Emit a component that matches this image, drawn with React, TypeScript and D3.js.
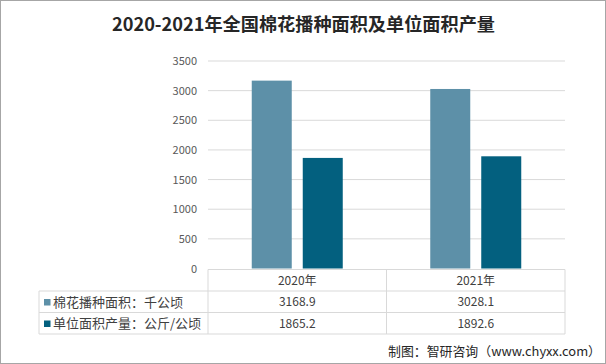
import React from "react";
import * as d3 from "d3";

const categories = ["2020年", "2021年"];
const seriesNames = ["棉花播种面积：千公顷", "单位面积产量：公斤/公顷"];
const areaValues = [3168.9, 3028.1];
const yieldValues = [1865.2, 1892.6];
const tickValues = [0, 500, 1000, 1500, 2000, 2500, 3000, 3500];
const colors = ["#5D90A8", "#03607F"];

export default function App() {
  const W = 606, H = 364;
  const left = 208, right = 565, top = 61, bottom = 268.5;
  const x = d3.scaleBand().domain(categories).range([left, right]);
  const y = d3.scaleLinear().domain([0, 3500]).range([bottom, top]);
  const barW = 40, gap = 11;
  const series = [areaValues, yieldValues];
  const rowTop = [269.5, 291, 312.5, 334];
  const font = "'Microsoft YaHei','Noto Sans CJK SC','Noto Sans',sans-serif";
  return (
    <svg width={W} height={H} style={{ position: "absolute", left: 0, top: 0 }}>
      <rect x={0.5} y={0.5} width={W - 1} height={H - 1} fill="#fff" stroke="#a6a6a6" />
      <text x={303.5} y={30.5} textAnchor="middle" fontSize={18} fontWeight="bold" fill="#262626"
        textLength={383} lengthAdjust="spacingAndGlyphs"
        fontFamily="'Noto Sans CJK SC',serif">2020-2021年全国棉花播种面积及单位面积产量</text>
      {tickValues.map((t) => (
        <g key={t}>
          {t > 0 && <line x1={left} x2={right} y1={y(t)} y2={y(t)} stroke="#d9d9d9" />}
          <text x={197} y={y(t) + 4} textAnchor="end" fontSize={11} fill="#595959" fontFamily={font}>{t}</text>
        </g>
      ))}
      {categories.map((c, i) =>
        series.map((s, j) => {
          const cx = x(c)! + x.bandwidth() / 2;
          const bx = j === 0 ? cx - gap / 2 - barW : cx + gap / 2;
          return <rect key={c + j} x={bx} y={y(s[i])} width={barW} height={bottom - y(s[i])} fill={colors[j]} />;
        })
      )}
      <g stroke="#d9d9d9" strokeWidth={1}>
        <line x1={left} x2={right} y1={rowTop[0]} y2={rowTop[0]} />
        <line x1={39} x2={right} y1={rowTop[1]} y2={rowTop[1]} />
        <line x1={39} x2={right} y1={rowTop[2]} y2={rowTop[2]} />
        <line x1={39} x2={right} y1={rowTop[3]} y2={rowTop[3]} />
        <line x1={left} x2={left} y1={rowTop[0]} y2={rowTop[3]} />
        <line x1={39} x2={39} y1={rowTop[1]} y2={rowTop[3]} />
        <line x1={right} x2={right} y1={rowTop[0]} y2={rowTop[3]} />
        <line x1={x(categories[1])} x2={x(categories[1])} y1={rowTop[0]} y2={rowTop[3]} />
      </g>
      {categories.map((c) => (
        <text key={c} x={x(c)! + x.bandwidth() / 2} y={284.5} textAnchor="middle" fontSize={12} fill="#404040" fontFamily={font}>{c}</text>
      ))}
      {seriesNames.map((n, j) => (
        <g key={n}>
          <rect x={44} y={rowTop[j + 1] + 8} width={6.5} height={6.5} fill={colors[j]} />
          <text x={53} y={rowTop[j + 1] + 15.5} fontSize={13} fill="#404040" fontFamily={font}>{n}</text>
          {categories.map((c, i) => (
            <text key={c} x={x(c)! + x.bandwidth() / 2} y={rowTop[j + 1] + 15} textAnchor="middle" fontSize={12} fill="#404040" fontFamily={font}>
              {series[j][i].toFixed(1)}
            </text>
          ))}
        </g>
      ))}
      <text x={388} y={356} fontSize={12.8} fill="#262626" fontFamily={font}
        textLength={213} lengthAdjust="spacingAndGlyphs">制图：智研咨询（www.chyxx.com）</text>
    </svg>
  );
}
